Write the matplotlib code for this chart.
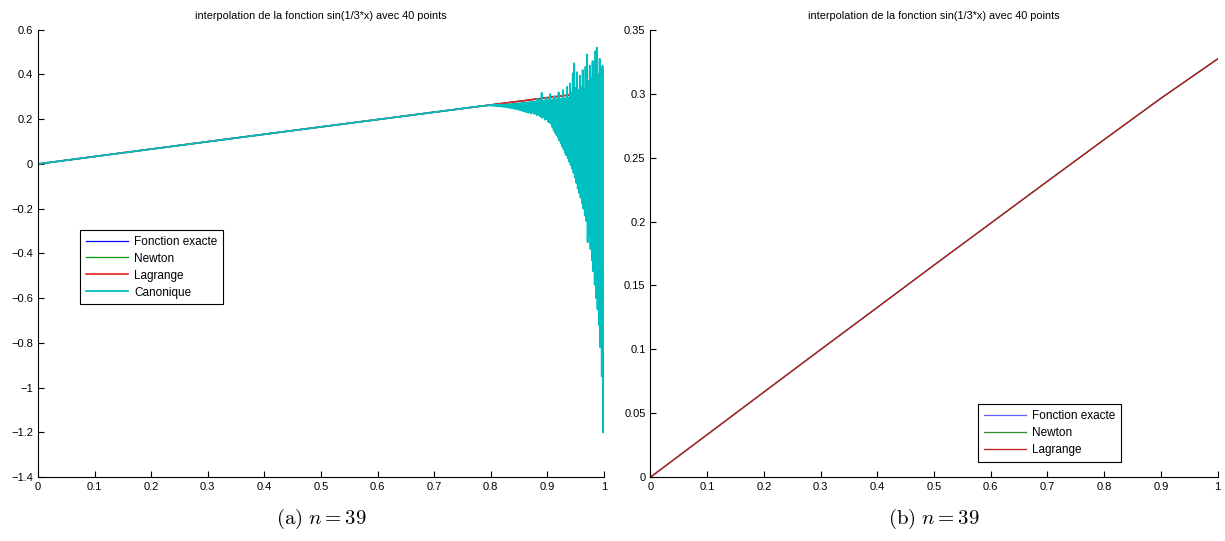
import numpy as np
import matplotlib
matplotlib.use("Agg")
import matplotlib.pyplot as plt
from matplotlib.ticker import FuncFormatter

plt.rcParams['font.family'] = ['Liberation Sans', 'DejaVu Sans']
plt.rcParams['mathtext.fontset'] = 'cm'

# exact function / Newton / Lagrange
x_exact = [0.0, 0.1, 0.2, 0.3, 0.4, 0.5, 0.6, 0.7, 0.8, 0.9, 1.0]
y_exact = [0.0, 0.0333, 0.0666, 0.0998, 0.1328, 0.1659, 0.1987, 0.2315, 0.2641, 0.2964, 0.3272]

# canonical interpolation: smooth part, then oscillating part on 0.80..1.00
x_canon_smooth = [0.0, 0.2, 0.4, 0.6, 0.78]
y_canon_smooth = [0.0, 0.0666, 0.1328, 0.1987, 0.2578]
y_canon_osc = [
    0.263, 0.261, 0.264, 0.260, 0.264, 0.260, 0.265, 0.259, 0.265, 0.259,
    0.265, 0.258, 0.265, 0.258, 0.266, 0.257, 0.265, 0.256, 0.266, 0.255,
    0.266, 0.255, 0.266, 0.254, 0.267, 0.252, 0.267, 0.251, 0.268, 0.250,
    0.268, 0.249, 0.269, 0.247, 0.270, 0.246, 0.270, 0.245, 0.271, 0.243,
    0.272, 0.241, 0.272, 0.240, 0.273, 0.237, 0.274, 0.236, 0.274, 0.233,
    0.275, 0.232, 0.276, 0.229, 0.276, 0.233, 0.277, 0.226, 0.278, 0.230,
    0.278, 0.224, 0.279, 0.228, 0.280, 0.218, 0.292, 0.222, 0.281, 0.215,
    0.282, 0.212, 0.318, 0.206, 0.283, 0.210, 0.284, 0.198, 0.298, 0.200,
    0.285, 0.190, 0.286, 0.185, 0.312, 0.180, 0.287, 0.165, 0.288, 0.150,
    0.304, 0.140, 0.289, 0.128, 0.290, 0.118, 0.320, 0.105, 0.291, 0.092,
    0.292, 0.078, 0.330, 0.065, 0.293, 0.050, 0.294, 0.038, 0.345, 0.025,
    0.296, 0.010, 0.360, -0.005, 0.320, -0.020, 0.405, -0.040, 0.450, -0.060,
    0.340, -0.085, 0.410, -0.110, 0.330, -0.130, 0.395, -0.150, 0.345, -0.175,
    0.420, -0.200, 0.335, -0.230, 0.435, -0.255, 0.490, -0.350, 0.370, -0.315,
    0.440, -0.380, 0.385, -0.430, 0.460, -0.480, 0.380, -0.540, 0.505, -0.600,
    0.520, -0.650, 0.400, -0.720, 0.470, -0.820, 0.430, -0.950, 0.440, -1.200,
    0.420,
]
x_canon_osc = np.linspace(0.8, 1.0, len(y_canon_osc))

title = "interpolation de la fonction sin(1/3*x) avec 40 points"
xticks = [0, 0.1, 0.2, 0.3, 0.4, 0.5, 0.6, 0.7, 0.8, 0.9, 1]
yticks_a = [-1.4, -1.2, -1, -0.8, -0.6, -0.4, -0.2, 0, 0.2, 0.4, 0.6]
yticks_b = [0, 0.05, 0.1, 0.15, 0.2, 0.25, 0.3, 0.35]

fmt = FuncFormatter(lambda v, p: ("%g" % round(v, 4)).replace("-", "\u2212"))


def style_axes(ax, yticks):
    ax.set_xlim(0, 1)
    ax.set_ylim(yticks[0], yticks[-1])
    ax.set_xticks(xticks)
    ax.set_yticks(yticks)
    ax.xaxis.set_major_formatter(fmt)
    ax.yaxis.set_major_formatter(fmt)
    ax.spines['top'].set_visible(False)
    ax.spines['right'].set_visible(False)
    ax.tick_params(direction='in', labelsize=8, length=4, width=0.8)
    ax.set_title(title, fontsize=7.8, pad=8)


def add_legend(ax, loc, anchor):
    leg = ax.legend(loc=loc, bbox_to_anchor=anchor, fontsize=8.5,
                    handlelength=3.6, fancybox=False, framealpha=1,
                    borderpad=0.5, labelspacing=0.42, handletextpad=0.5,
                    borderaxespad=0)
    leg.get_frame().set_edgecolor('black')
    leg.get_frame().set_linewidth(0.8)
    return leg


fig = plt.figure(figsize=(12.25, 5.41), dpi=100)

# (a)
ax1 = fig.add_axes([0.031, 0.118, 0.462, 0.827])
ax1.plot(x_exact, y_exact, color='#0000ff', lw=0.9, label='Fonction exacte')
ax1.plot(x_exact, y_exact, color='#009900', lw=0.9, label='Newton')
ax1.plot(x_exact, y_exact, color='#e62020', lw=1.2, label='Lagrange')
x_canon = list(x_canon_smooth) + list(x_canon_osc)
y_canon = list(y_canon_smooth) + list(y_canon_osc)
ax1.plot(x_canon, y_canon, color='#00bfbf', lw=1.3, label='Canonique')
style_axes(ax1, yticks_a)
add_legend(ax1, 'upper left', (0.074, 0.553))

# (b)
ax2 = fig.add_axes([0.531, 0.118, 0.463, 0.827])
ax2.plot(x_exact, y_exact, color='#6060ff', lw=0.9, label='Fonction exacte')
ax2.plot(x_exact, y_exact, color='#2e8b2e', lw=0.9, label='Newton')
ax2.plot(x_exact, y_exact, color='#c01818', lw=0.9, label='Lagrange')
style_axes(ax2, yticks_b)
add_legend(ax2, 'lower left', (0.577, 0.034))

fig.text(0.262, 0.040, r"$\mathrm{(a)}\ n = 39$", ha='center', va='center', fontsize=15)
fig.text(0.762, 0.040, r"$\mathrm{(b)}\ n = 39$", ha='center', va='center', fontsize=15)

fig.savefig("out.png", dpi=100)
